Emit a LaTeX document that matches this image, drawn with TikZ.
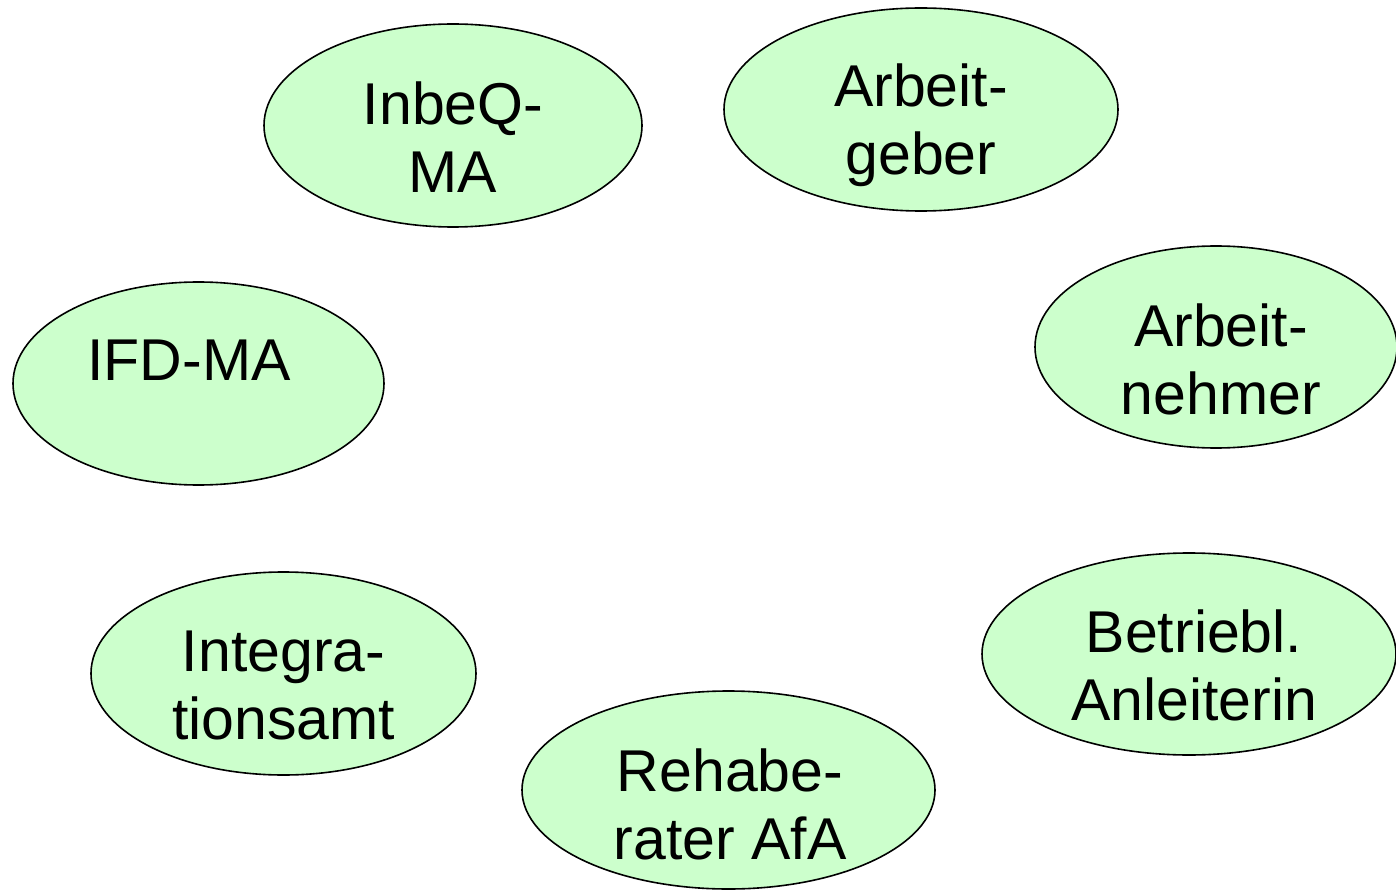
\documentclass[tikz,border=0pt]{standalone}
\usepackage{fontspec}
\setmainfont{Liberation Sans}
\usetikzlibrary{shapes.geometric}
\definecolor{blobfill}{HTML}{CCFFCC}
\tikzset{
  blob/.style={ellipse, draw=black, line width=1.6pt, fill=blobfill, inner sep=0pt},
  lbl/.style={anchor=base, align=center, inner sep=0pt, font=\fontsize{59}{68}\selectfont}
}
\begin{document}
\begin{tikzpicture}[x=1pt,y=-1pt]
\useasboundingbox (0,0) rectangle (1396,890);
\node[blob, minimum width=378pt, minimum height=203pt] (inbeq) at (453,125.5) {};
\node[blob, minimum width=394pt, minimum height=203pt] (ag) at (921,109.5) {};
\node[blob, minimum width=362pt, minimum height=202pt] (an) at (1216,347) {};
\node[blob, minimum width=371pt, minimum height=203pt] (ifd) at (198.5,383.5) {};
\node[blob, minimum width=385pt, minimum height=203pt] (ia) at (283.5,673.5) {};
\node[blob, minimum width=414pt, minimum height=202pt] (ba) at (1189,654) {};
\node[blob, minimum width=413pt, minimum height=198pt] (rb) at (728.5,790) {};
\node[lbl] (tinbeq) at (453,193) {InbeQ-\\MA};
\node[lbl] (tag) at (921,175) {Arbeit-\\geber};
\node[lbl] (tan) at (1221,414) {Arbeit-\\nehmer};
\node[lbl] (tifd) at (189,380) {IFD-MA};
\node[lbl] (tia) at (283.5,739) {Integra-\\tionsamt};
\node[lbl] (tba) at (1194,720) {Betriebl.\\Anleiterin};
\node[lbl] (trb) at (730,859) {Rehabe-\\rater AfA};
\end{tikzpicture}
\end{document}
